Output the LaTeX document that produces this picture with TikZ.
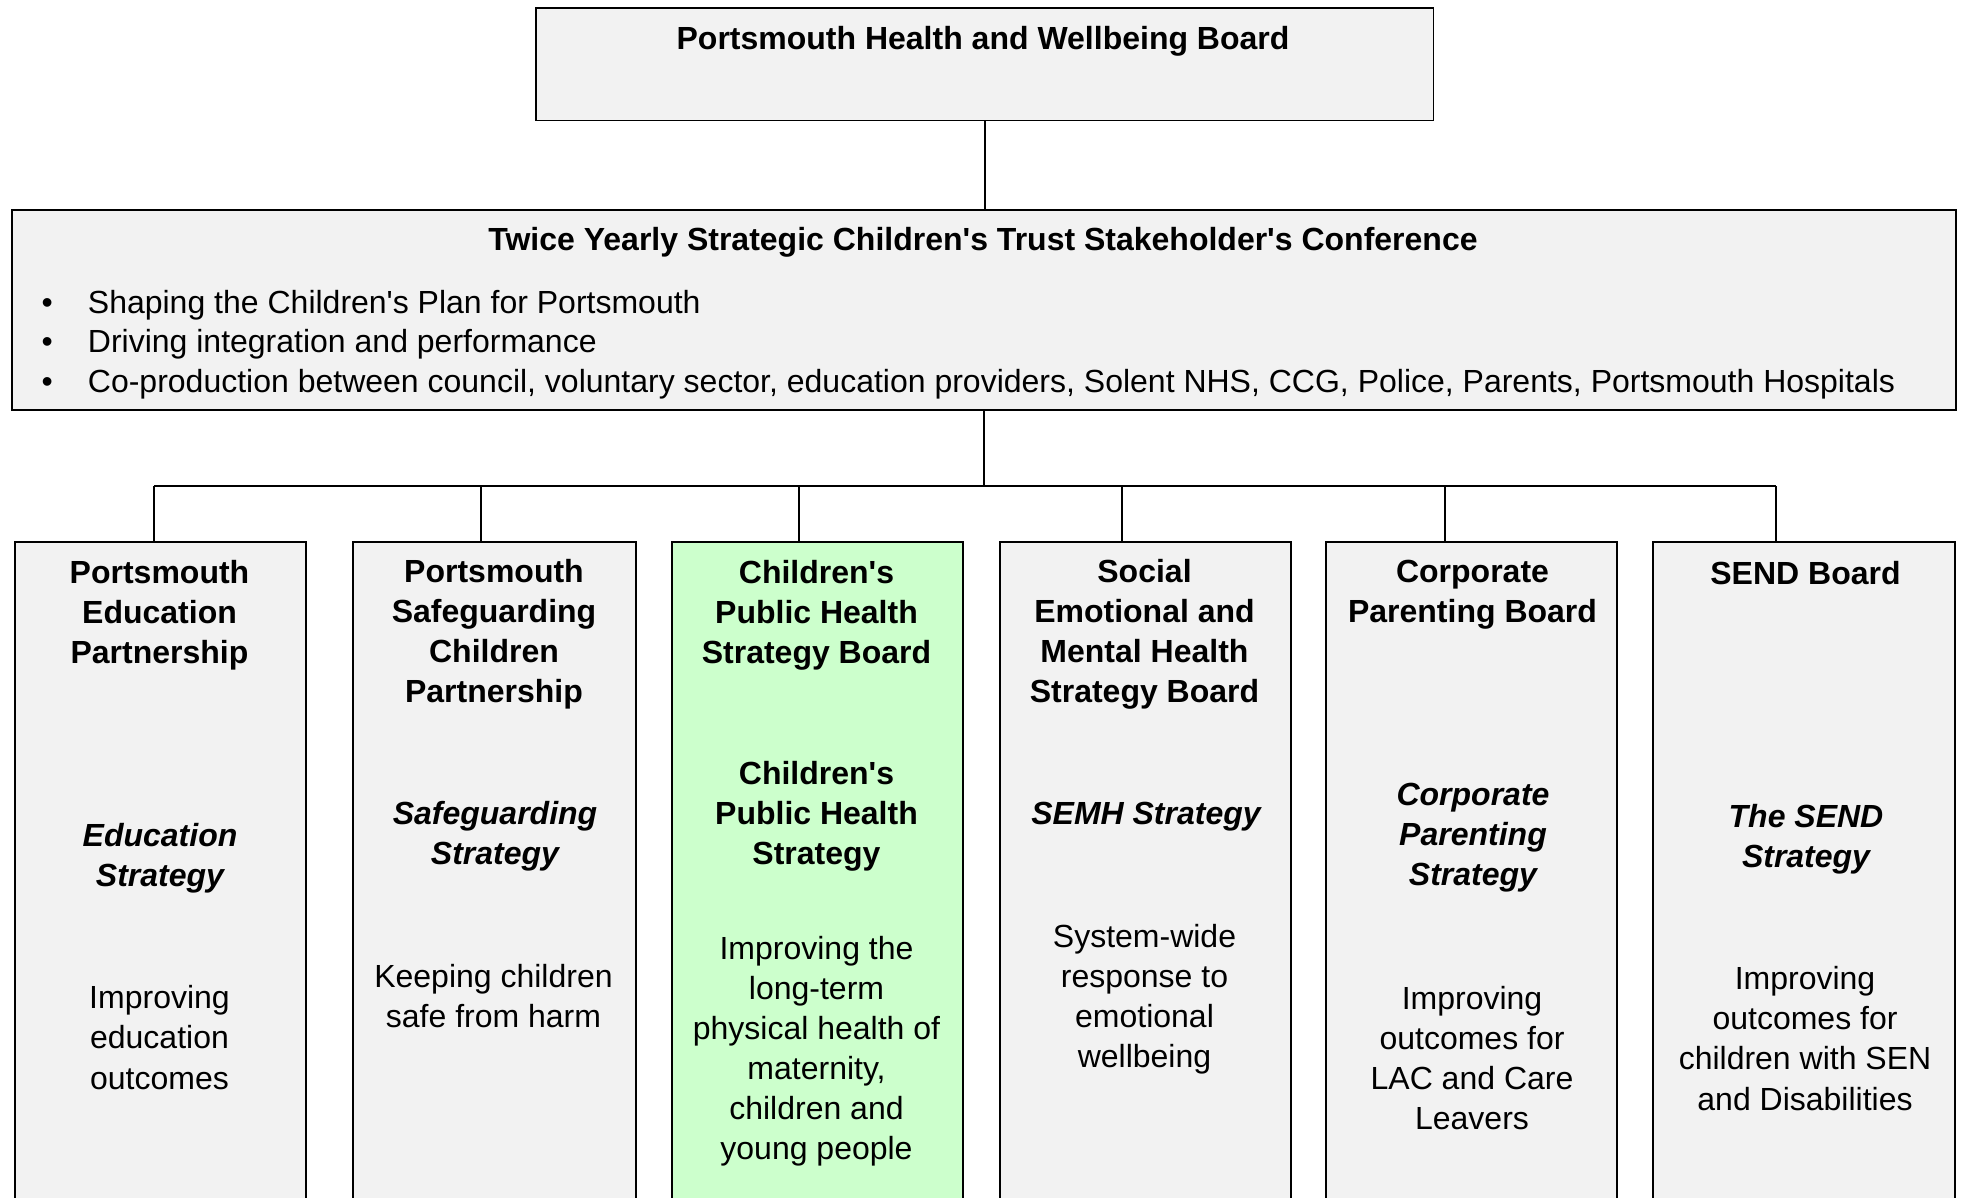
\documentclass[tikz,border=0pt]{standalone}
\usepackage{fontspec}
\setmainfont{Liberation Sans}
\definecolor{boxgrey}{HTML}{F2F2F2}
\definecolor{boxgreen}{HTML}{CCFFCC}
\newcommand{\ap}{\textquotesingle}

\begin{document}
\begin{tikzpicture}[x=0.01cm,y=-0.01cm,
    board/.style={draw,line width=0.5pt,fill=boxgrey,anchor=north west,inner sep=0pt},
    column/.style={board,minimum width=2.91cm,minimum height=7.2cm},
    head/.style={align=center,inner sep=0pt,font=\fontsize{9.1}{11.4}\selectfont\bfseries},
    plan/.style={head,font=\fontsize{9.1}{11.4}\selectfont\bfseries\itshape},
    aim/.style={align=center,inner sep=0pt,font=\fontsize{9.1}{11.4}\selectfont},
    link/.style={line width=0.5pt}]
  \clip (0,0) rectangle (1961,1197);

  % top level boxes
  \node[board,minimum width=8.97cm,minimum height=1.125cm] (hwb) at (535,7) {};
  \node[head] (hwbtitle) at (983,41.5) {Portsmouth Health and Wellbeing Board};
  \node[board,minimum width=19.43cm,minimum height=2cm] (conf) at (11,209) {};
  \node[head] (conftitle) at (983,242) {Twice Yearly Strategic Children\ap s Trust Stakeholder\ap s Conference};
  \node[aim,anchor=west,font=\fontsize{9.1}{11.2}\selectfont] (confaims) at (41,345) {%
    \begin{tabular}{@{}l@{\hspace{0.35cm}}l@{}}
      \textbullet & Shaping the Children\ap s Plan for Portsmouth\\
      \textbullet & Driving integration and performance\\
      \textbullet & Co-production between council, voluntary sector, education providers, Solent NHS, CCG, Police, Parents, Portsmouth Hospitals
    \end{tabular}};

  % the six strategy boards
  \node[column,minimum width=2.91cm] (edu) at (14,541) {};
  \node[column,minimum width=2.83cm] (safe) at (352,541) {};
  \node[column,minimum width=2.91cm,fill=boxgreen] (cph) at (671,541) {};
  \node[column,minimum width=2.91cm] (semh) at (999,541) {};
  \node[column,minimum width=2.91cm] (corp) at (1325,541) {};
  \node[column,minimum width=3.02cm] (send) at (1652,541) {};

  \node[head] (eduhead) at (159.5,615) {Portsmouth\\Education\\Partnership};
  \node[plan] (eduplan) at (160,858) {Education\\Strategy};
  \node[aim] (eduaim) at (159.5,1037.5) {Improving\\education\\outcomes};

  \node[head] (safehead) at (494,634.5) {Portsmouth\\Safeguarding\\Children\\Partnership};
  \node[plan] (safeplan) at (495,836) {Safeguarding\\Strategy};
  \node[aim] (safeaim) at (493.5,996) {Keeping children\\safe from harm};

  \node[head] (cphhead) at (816.5,615) {Children\ap s\\Public Health\\Strategy Board};
  \node[head] (cphplan) at (816.5,816) {Children\ap s\\Public Health\\Strategy};
  \node[aim] (cphaim) at (816.5,1051) {Improving the\\long-term\\physical health of\\maternity,\\children and\\young people};

  \node[head] (semhhead) at (1144.5,634.5) {Social\\Emotional and\\Mental Health\\Strategy Board};
  \node[plan] (semhplan) at (1146,816.5) {SEMH Strategy};
  \node[aim] (semhaim) at (1144.5,999.5) {System-wide\\response to\\emotional\\wellbeing};

  \node[head] (corphead) at (1472.5,595) {Corporate\\Parenting Board};
  \node[plan] (corpplan) at (1473,838) {Corporate\\Parenting\\Strategy};
  \node[aim] (corpaim) at (1472,1058) {Improving\\outcomes for\\LAC and Care\\Leavers};

  \node[head] (sendhead) at (1805.5,573) {SEND Board};
  \node[plan] (sendplan) at (1806,839) {The SEND\\Strategy};
  \node[aim] (sendaim) at (1805,1038.5) {Improving\\outcomes for\\children with SEN\\and Disabilities};

  % connectors
  \coordinate (drop1) at (154,486);
  \coordinate (drop2) at (481,486);
  \coordinate (drop3) at (799,486);
  \coordinate (drop4) at (1122,486);
  \coordinate (drop5) at (1445,486);
  \coordinate (drop6) at (1776,486);
  \draw[link] (hwb.south) -- (hwb.south |- conf.north);
  \draw[link] (conf.south) -- (conf.south |- drop1);
  \draw[link] (drop1) -- (drop6);
  \draw[link] (drop1) -- (drop1 |- edu.north);
  \draw[link] (drop2) -- (drop2 |- safe.north);
  \draw[link] (drop3) -- (drop3 |- cph.north);
  \draw[link] (drop4) -- (drop4 |- semh.north);
  \draw[link] (drop5) -- (drop5 |- corp.north);
  \draw[link] (drop6) -- (drop6 |- send.north);
\end{tikzpicture}
\end{document}
